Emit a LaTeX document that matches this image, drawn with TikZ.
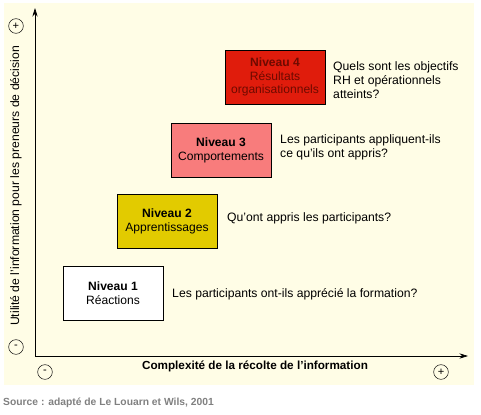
\documentclass[tikz,border=0pt]{standalone}
\usepackage{fontspec}
\setmainfont{Liberation Sans}
\usetikzlibrary{arrows.meta, positioning}
\definecolor{creme}{RGB}{255, 253, 230}
\definecolor{niveaujaune}{RGB}{226, 203, 0}
\definecolor{niveaurose}{RGB}{248, 124, 124}
\definecolor{niveaurouge}{RGB}{224, 28, 12}
\definecolor{texterouge}{RGB}{110, 10, 0}
\definecolor{sourcegris}{RGB}{128, 128, 128}
\tikzset{
  niveau/.style={
    draw=black,
    thin,
    minimum width=3cm,
    minimum height=1.62cm,
    inner sep=1pt,
    align=center,
    font=\fontsize{10.3}{11.8}\selectfont
  },
  question/.style={
    anchor=west,
    align=left,
    inner sep=0pt,
    font=\fontsize{10.4}{12.2}\selectfont
  },
  signe/.style={
    draw=black,
    circle,
    minimum size=0.44cm,
    inner sep=0pt,
    font=\fontsize{9.5}{9.5}\selectfont
  },
  axe/.style={
    {Stealth[length=2.6mm, width=1.6mm]}-{Stealth[length=2.6mm, width=1.6mm]},
    semithick
  }
}

\begin{document}
\begin{tikzpicture}[x=0.03cm, y=-0.03cm]
  \useasboundingbox (0,0) rectangle (481,414);
  \fill[creme] (4,3) rectangle (474,385);

  % axes
  \coordinate (ytop) at (35,8);
  \coordinate (xend) at (468,356);
  \draw[axe] (ytop) |- (xend);

  \node[signe] (yplus) at (16,26) {+};
  \node[signe] (ymoins) at (16,347) {-};
  \node[signe] (xmoins) at (45,372) {-};
  \node[signe] (xplus) at (441,372) {+};

  \node[rotate=90, font=\fontsize{10.4}{11}\selectfont] (ylabel) at (16,186)
    {Utilité de l'information pour les preneurs de décision};
  \node[font=\fontsize{10}{11}\selectfont\bfseries] (xlabel) at (255,366)
    {Complexité de la récolte de l'information};

  % niveaux
  \node[niveau, fill=white] (n1) at (113,293) {\textbf{Niveau 1}\\Réactions};
  \node[niveau, fill=niveaujaune] (n2) at (167,221) {\textbf{Niveau 2}\\Apprentissages};
  \node[niveau, fill=niveaurose] (n3) at (221,150) {\textbf{Niveau 3}\\Comportements};
  \node[niveau, fill=niveaurouge, text=texterouge] (n4) at (275,77)
    {\textbf{Niveau 4}\\Résultats\\organisationnels};

  % questions
  \node[question] (q1) at (172,294) {Les participants ont-ils apprécié la formation?};
  \node[question] (q2) at (227,218) {Qu'ont appris les participants?};
  \node[question] (q3) at (280,147) {Les participants appliquent-ils\\ce qu'ils ont appris?};
  \node[question] (q4) at (333,80) {Quels sont les objectifs\\RH et opérationnels\\atteints?};

  \node[anchor=west, inner sep=0pt, text=sourcegris, font=\fontsize{8.8}{10}\selectfont\bfseries]
    (source) at (3,403) {Source : adapté de Le Louarn et Wils, 2001};
\end{tikzpicture}
\end{document}
